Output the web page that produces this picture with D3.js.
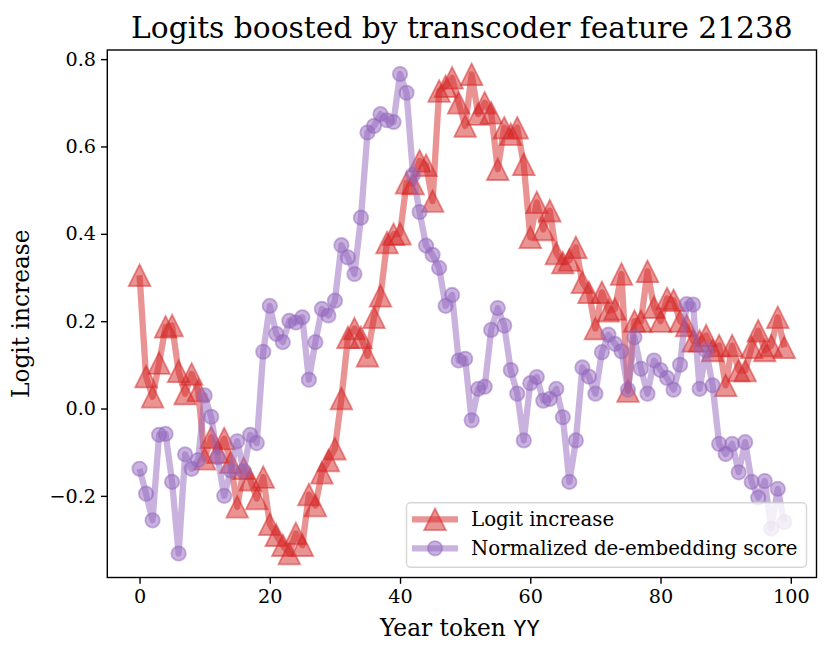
<!DOCTYPE html>
<meta charset="utf-8">
<style>
	body { margin: 0; background: #fff; }
	text { font-family: "DejaVu Serif", serif; fill: #000; }
</style>
<svg width="831" height="656"></svg>
<script src="https://d3js.org/d3.v7.min.js"></script>
<script>
	// year tokens 00..99 on the x axis
	var yearTokens = d3.range(0, 100)

	var logitIncrease = [
		0.305, 0.073, 0.027, 0.104, 0.187, 0.19, 0.085, 0.034, 0.079, 0.041,
		-0.115, -0.066, -0.10, -0.069, -0.123, -0.225, -0.137, -0.163, -0.206, -0.157,
		-0.265, -0.29, -0.313, -0.332, -0.286, -0.313, -0.197, -0.222, -0.147, -0.119,
		-0.092, 0.023, 0.163, 0.183, 0.163, 0.121, 0.209, 0.258, 0.38, 0.399,
		0.40, 0.517, 0.515, 0.567, 0.557, 0.475, 0.727, 0.738, 0.757, 0.70,
		0.647, 0.765, 0.674, 0.70, 0.677, 0.548, 0.643, 0.628, 0.643, 0.559,
		0.392, 0.472, 0.41, 0.453, 0.355, 0.334, 0.34, 0.369, 0.289, 0.266,
		0.183, 0.266, 0.224, 0.228, 0.308, 0.04, 0.2, 0.2, 0.314, 0.232,
		0.2, 0.252, 0.248, 0.2, 0.19, 0.155, 0.155, 0.167, 0.133, 0.144,
		0.053, 0.144, 0.087, 0.087, 0.14, 0.178, 0.133, 0.144, 0.209, 0.14
	]

	var deembedScore = [
		-0.138, -0.195, -0.256, -0.06, -0.058, -0.168, -0.332, -0.105, -0.138, -0.118,
		0.03, -0.019, -0.112, -0.2, -0.142, -0.075, -0.143, -0.06, -0.079, 0.13,
		0.235, 0.171, 0.152, 0.201, 0.197, 0.209, 0.066, 0.152, 0.228, 0.213,
		0.247, 0.374, 0.346, 0.308, 0.437, 0.632, 0.647, 0.674, 0.66, 0.656,
		0.766, 0.723, 0.535, 0.45, 0.373, 0.352, 0.322, 0.235, 0.26, 0.11,
		0.114, -0.027, 0.045, 0.05, 0.18, 0.23, 0.19, 0.088, 0.034, -0.073,
		0.058, 0.072, 0.018, 0.022, 0.045, -0.02, -0.168, -0.073, 0.094, 0.073,
		0.034, 0.129, 0.169, 0.148, 0.131, 0.043, 0.163, 0.091, 0.034, 0.11,
		0.088, 0.07, 0.043, 0.1, 0.239, 0.238, 0.045, 0.133, 0.053, -0.081,
		-0.104, -0.081, -0.146, -0.077, -0.168, -0.204, -0.166, -0.275, -0.184, -0.26
	]

	var xTicks = [0, 20, 40, 60, 80, 100]
	var yTicks = [-0.2, 0.0, 0.2, 0.4, 0.6, 0.8]
	var seriesNames = ['Logit increase', 'Normalized de-embedding score']

	var svg = d3.select('svg'),
		margin = { top: 50, right: 14.5, bottom: 78.5, left: 107.3 },
		width = +svg.attr('width') - margin.left - margin.right,
		height = +svg.attr('height') - margin.top - margin.bottom,
		g = svg.append('g').attr('transform', 'translate(' + margin.left + ',' + margin.top + ')')

	// matplotlib style 5% padding around the data
	var xExt = d3.extent(yearTokens),
		yExt = d3.extent(logitIncrease.concat(deembedScore)),
		xPad = (xExt[1] - xExt[0]) * 0.05,
		yPad = (yExt[1] - yExt[0]) * 0.05

	var x = d3.scaleLinear().domain([xExt[0] - xPad, xExt[1] + xPad]).range([0, width]),
		y = d3.scaleLinear().domain([yExt[0] - yPad, yExt[1] + yPad]).range([height, 0])

	var fmt = function (d) { return d3.format('.1f')(d).replace('-', '\u2212') }

	var xAxis = g.append('g')
		.attr('transform', 'translate(0,' + height + ')')
		.call(d3.axisBottom(x).tickValues(xTicks).tickSize(6.3).tickPadding(6).tickFormat(d3.format('d')))
	var yAxis = g.append('g')
		.call(d3.axisLeft(y).tickValues(yTicks).tickSize(6.3).tickPadding(5).tickFormat(fmt))

	;[xAxis, yAxis].forEach(function (a) {
		a.select('.domain').remove()
		a.selectAll('.tick line').attr('stroke', '#000').attr('stroke-width', 1.4)
		a.selectAll('.tick text').attr('font-size', 19.2).attr('font-family', 'DejaVu Serif')
	})

	var red = '#d62728', purple = '#9467bd'
	var tri = 21.6, circR = 7.2

	var line = d3.line()
		.x(function (d, i) { return x(yearTokens[i]) })
		.y(function (d) { return y(d) })

	var plot = g.append('g')

	function drawSeries(vals, color, marker) {
		plot.append('path')
			.attr('d', line(vals))
			.attr('fill', 'none')
			.attr('stroke', color)
			.attr('stroke-opacity', 0.5)
			.attr('stroke-width', 6.3)
			.attr('stroke-linejoin', 'round')
		var pts = plot.append('g').selectAll('.pt').data(vals).enter()
		if (marker === 'tri') {
			pts.append('path')
				.attr('d', 'M0,' + (-tri / 2) + 'L' + (tri / 2) + ',' + (tri / 2) + 'L' + (-tri / 2) + ',' + (tri / 2) + 'Z')
				.attr('transform', function (d, i) { return 'translate(' + x(yearTokens[i]) + ',' + y(d) + ')' })
				.attr('fill', color).attr('fill-opacity', 0.5)
				.attr('stroke', color).attr('stroke-opacity', 0.5).attr('stroke-width', 1.8)
				.attr('stroke-linejoin', 'miter')
		} else {
			pts.append('circle')
				.attr('cx', function (d, i) { return x(yearTokens[i]) })
				.attr('cy', function (d) { return y(d) })
				.attr('r', circR)
				.attr('fill', color).attr('fill-opacity', 0.5)
				.attr('stroke', color).attr('stroke-opacity', 0.5).attr('stroke-width', 1.8)
		}
	}

	drawSeries(logitIncrease, red, 'tri')
	drawSeries(deembedScore, purple, 'circle')

	// frame
	g.append('rect')
		.attr('width', width).attr('height', height)
		.attr('fill', 'none').attr('stroke', '#000').attr('stroke-width', 1.4)

	// legend
	var lg = g.append('g').attr('transform', 'translate(' + (width - 410) + ',' + (height - 74.8) + ')')
	lg.append('rect')
		.attr('width', 400).attr('height', 64.6).attr('rx', 4)
		.attr('fill', '#fff').attr('fill-opacity', 0.8)
		.attr('stroke', '#ccc').attr('stroke-opacity', 0.8).attr('stroke-width', 1.4)
	seriesNames.forEach(function (name, k) {
		var ly = 16.6 + k * 29, color = k === 0 ? red : purple
		lg.append('line')
			.attr('x1', 5.5).attr('x2', 51.5).attr('y1', ly).attr('y2', ly)
			.attr('stroke', color).attr('stroke-opacity', 0.5).attr('stroke-width', 6.3)
		if (k === 0) {
			lg.append('path')
				.attr('d', 'M0,' + (-tri / 2) + 'L' + (tri / 2) + ',' + (tri / 2) + 'L' + (-tri / 2) + ',' + (tri / 2) + 'Z')
				.attr('transform', 'translate(28.5,' + ly + ')')
				.attr('fill', color).attr('fill-opacity', 0.5)
				.attr('stroke', color).attr('stroke-opacity', 0.5).attr('stroke-width', 1.8)
		} else {
			lg.append('circle').attr('cx', 28.5).attr('cy', ly).attr('r', circR)
				.attr('fill', color).attr('fill-opacity', 0.5)
				.attr('stroke', color).attr('stroke-opacity', 0.5).attr('stroke-width', 1.8)
		}
		lg.append('text')
			.attr('x', 64.5).attr('y', ly + 7)
			.attr('font-size', 19.8)
			.text(name)
	})

	// title and axis labels
	svg.append('text')
		.attr('x', margin.left + width / 2).attr('y', 37.5)
		.attr('text-anchor', 'middle').attr('font-size', 29.7)
		.text('Logits boosted by transcoder feature 21238')

	var xl = svg.append('text')
		.attr('x', margin.left + width / 2 - 2).attr('y', 635.5)
		.attr('text-anchor', 'middle').attr('font-size', 23.3)
	xl.append('tspan').text('Year token ')
	xl.append('tspan').attr('font-family', 'DejaVu Sans Mono').attr('font-size', 22).text('YY')

	svg.append('text')
		.attr('transform', 'translate(29,' + (margin.top + height / 2) + ') rotate(-90)')
		.attr('text-anchor', 'middle').attr('font-size', 23.3)
		.text('Logit increase')
</script>
